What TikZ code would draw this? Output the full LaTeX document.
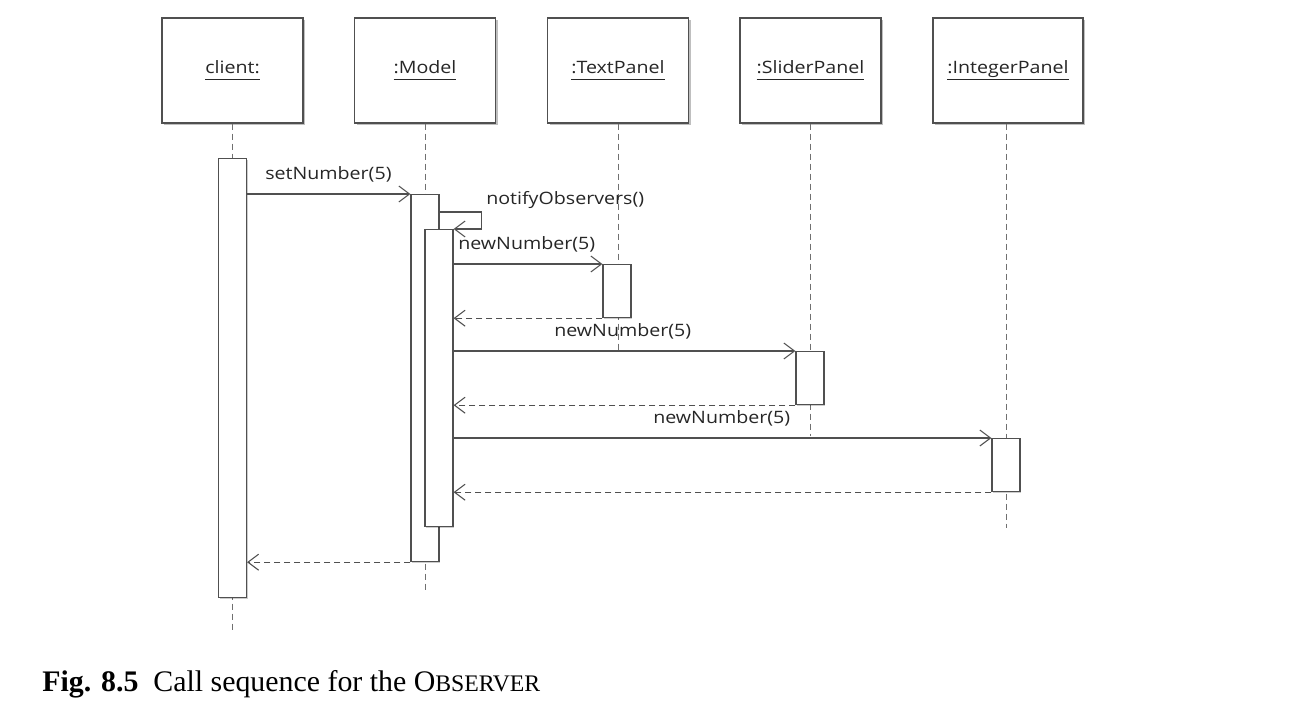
\documentclass[tikz,border=0pt]{standalone}
\usepackage{fontspec}
\setmainfont{Liberation Serif}
\newfontfamily\lblfont[FakeStretch=1.15]{Open Sans}
\usetikzlibrary{arrows.meta,shadows,calc}
\definecolor{lin}{HTML}{505050}
\definecolor{lifec}{HTML}{707070}
\newcommand\headlbl[1]{\raisebox{-3pt}{\underline{#1\vphantom{gp}}}}
\begin{document}
\begin{tikzpicture}[x=0.75pt,y=-0.75pt,
  every node/.style={font=\lblfont\fontsize{12.8}{15}\selectfont, text=black!85},
  head/.style={draw=lin, line width=0.9pt, fill=white, minimum width=105.75pt, minimum height=78.75pt, inner sep=0pt,
     drop shadow={shadow xshift=1.5pt, shadow yshift=-1.5pt, opacity=0.25, fill=black}},
  actbox/.style={draw=lin, line width=0.9pt, fill=white, minimum width=21pt, anchor=north, inner sep=0pt,
     drop shadow={shadow xshift=1pt, shadow yshift=-1pt, opacity=0.2, fill=black}},
  lifeline/.style={draw=lifec, line width=0.7pt, dash pattern=on 4.5pt off 3pt},
  msg/.style={draw=lin, line width=0.8pt, -{Straight Barb[length=8pt,width=12pt]}},
  ret/.style={msg, dash pattern=on 4.5pt off 3pt},
  lbl/.style={anchor=west, inner sep=0pt}
]
\useasboundingbox (0,0) rectangle (1311,711);

% heads
\node[head] (hc) at (232.5,70.5) {\headlbl{client:}};
\node[head] (hm) at (425,70.5) {\headlbl{:Model}};
\node[head] (ht) at (618,70.5) {\headlbl{:TextPanel}};
\node[head] (hs) at (810.5,70.5) {\headlbl{:SliderPanel}};
\node[head, minimum width=112.5pt] (hi) at (1008,70.5) {\headlbl{:IntegerPanel}};

% lifeline ends
\coordinate (ec) at (232.5,632);
\coordinate (em) at (425,592);
\coordinate (et) at (618,352);
\coordinate (es) at (810.5,436);
\coordinate (ei) at (1006,528);
\draw[lifeline] (hc.south) -- (ec);
\draw[lifeline] (hm.south) -- (em);
\draw[lifeline] (ht.south) -- (et);
\draw[lifeline] (hs.south) -- (es);
\draw[lifeline] (hi.south -| ei) -- (ei);

% activations
\node[actbox, minimum height=329.25pt] (ca) at (232.5,158) {};
\node[actbox, minimum height=275.25pt] (mo) at (425,194) {};
\node[actbox, minimum height=222.75pt] (mi) at (439,229) {};
\node[actbox, minimum height=39.75pt] (ta) at (617,264) {};
\node[actbox, minimum height=39.75pt] (sa) at (810,351) {};
\node[actbox, minimum height=39.75pt] (ia) at (1006,438) {};

% messages
\draw[msg] (mo.north west -| ca.east) -- (mo.north west);
\node[lbl] (l1) at (265,174) {setNumber(5)};

\draw[msg] ($(mo.north east)+(0,18)$) -- ++(42,0) |- (mi.north east);
\node[lbl] (l2) at (486,200) {notifyObservers()};

\draw[msg] (ta.north west -| mi.east) -- (ta.north west);
\node[lbl] (l3) at (458,244) {newNumber(5)};
\draw[ret] (ta.south west) -- (ta.south west -| mi.east);

\draw[msg] (sa.north west -| mi.east) -- (sa.north west);
\node[lbl] (l4) at (554,331) {newNumber(5)};
\draw[ret] (sa.south west) -- (sa.south west -| mi.east);

\draw[msg] (ia.north west -| mi.east) -- (ia.north west);
\node[lbl] (l5) at (653,418) {newNumber(5)};
\draw[ret] (ia.south west) -- (ia.south west -| mi.east);

\draw[ret] (mo.south west) -- (mo.south west -| ca.east);

% caption
\node[anchor=base west, inner sep=0pt, text=black, font=\rmfamily\fontsize{22.4}{26}\selectfont] (cap) at (42,691)
  {\textbf{Fig. 8.5}\hspace{0.5em}Call sequence for the O{\fontsize{17.8}{20}\selectfont BSERVER}};
\end{tikzpicture}
\end{document}
